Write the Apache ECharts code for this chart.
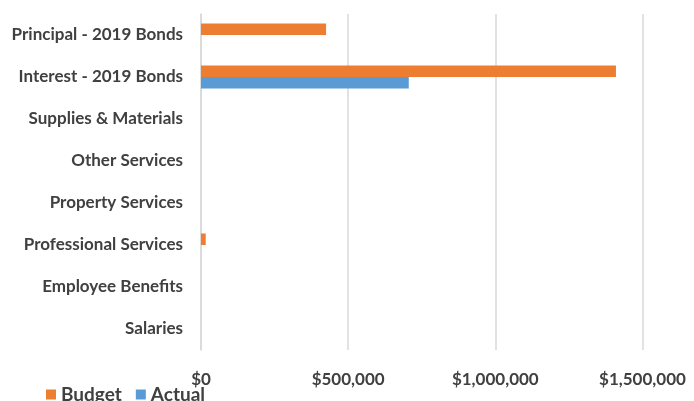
<!DOCTYPE html>
<html>
<head>
<meta charset="utf-8">
<script src="https://cdn.jsdelivr.net/npm/echarts@6/dist/echarts.min.js"></script>
<style>
  html, body { margin: 0; padding: 0; background: #fff; }
  #chart { width: 694px; height: 401px; }
</style>
</head>
<body>
<div id="chart"></div>
<script>
// Expense lines, bottom to top
const categories = [
  'Salaries',
  'Employee Benefits',
  'Professional Services',
  'Property Services',
  'Other Services',
  'Supplies & Materials',
  'Interest - 2019 Bonds',
  'Principal - 2019 Bonds'
];
const budget = [0, 0, 16000, 0, 0, 0, 1410000, 425000];
const actual = [0, 0, 0, 0, 0, 0, 706000, 0];
const seriesNames = ['Budget', 'Actual'];

// Value axis: labelled every $500,000; the plot runs on past the last label
const axisStep = 500000;
const axisMax = 1665000;

const textColor = '#404040';
const fontFamily = 'Lato';

const fmtMoney = v => (v % axisStep === 0 ? '$' + v.toLocaleString('en-US') : '');

const chart = echarts.init(document.getElementById('chart'), null, { renderer: 'canvas' });
chart.setOption({
  animation: false,
  color: ['#ED7D31', '#5B9BD5'],
  grid: { left: 201, top: 14, right: 0, height: 336, containLabel: false },
  legend: {
    data: seriesNames,
    left: 41,
    top: 380,
    itemWidth: 10,
    itemHeight: 10,
    itemGap: 14,
    icon: 'rect',
    textStyle: { color: textColor, fontFamily, fontWeight: 'bold', fontSize: 19 }
  },
  xAxis: {
    type: 'value',
    min: 0,
    max: axisMax,
    interval: axisStep,
    axisLine: { show: false },
    axisTick: { show: false },
    splitLine: { showMaxLine: false, lineStyle: { color: '#d9d9d9', width: 1.5 } },
    axisLabel: {
      formatter: fmtMoney,
      color: textColor,
      fontFamily,
      fontWeight: 'bold',
      fontSize: 17,
      margin: 21
    }
  },
  yAxis: {
    type: 'category',
    data: categories,
    axisLine: { show: true, lineStyle: { color: '#d9d9d9', width: 1.5 } },
    axisTick: { show: false },
    axisLabel: {
      color: textColor,
      fontFamily,
      fontWeight: 'bold',
      fontSize: 17,
      margin: 18
    }
  },
  series: [
    { name: seriesNames[0], type: 'bar', data: budget, barWidth: 11.5, barGap: '0%' },
    { name: seriesNames[1], type: 'bar', data: actual, barWidth: 11.5, barGap: '0%' }
  ]
});
</script>
</body>
</html>
